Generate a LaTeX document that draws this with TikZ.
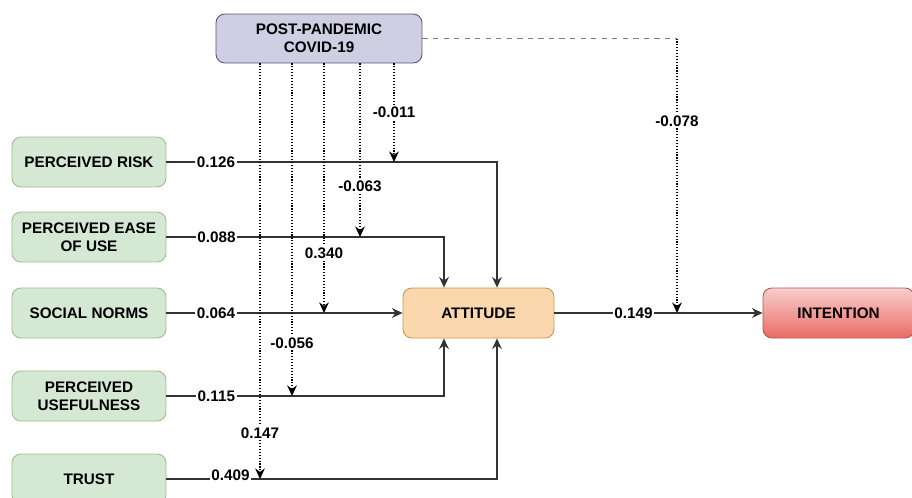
\documentclass[tikz,border=0pt]{standalone}
\usepackage{fontspec}
\setmainfont{Liberation Sans}
\usepackage{tikz}
\usetikzlibrary{arrows.meta}
\definecolor{postfill}{HTML}{D0CEE2}
\definecolor{postline}{HTML}{56517E}
\definecolor{consfill}{HTML}{D5E8D4}
\definecolor{consline}{HTML}{9DBB8C}
\definecolor{attfill}{HTML}{FAD7AC}
\definecolor{attline}{HTML}{C8964E}
\definecolor{inttop}{HTML}{F8CECC}
\definecolor{intbot}{HTML}{EA6B66}
\definecolor{intline}{HTML}{B85450}

\begin{document}
\begin{tikzpicture}[x=0.02cm,y=-0.02cm,
  font=\fontsize{8.7}{10}\selectfont\bfseries,
  box/.style={draw,rounded corners=5pt,minimum width=3.08cm,minimum height=1cm,align=center,line width=0.5pt},
  cons/.style={box,fill=consfill,draw=consline},
  conn/.style={draw=black!80,line width=0.65pt,-{Stealth[length=6pt,width=5.5pt]}},
  mod/.style={conn,draw=black,densely dotted,line width=0.9pt},
  lbl/.style={fill=white,inner sep=1pt}]
\useasboundingbox (0,0) rectangle (912,497);
\node[box,fill=postfill,draw=postline,minimum width=4.12cm,minimum height=0.98cm] (post) at (319,38.5) {POST-PANDEMIC\\COVID-19};
\node[cons] (risk) at (89,162) {PERCEIVED RISK};
\node[cons] (ease) at (89,237) {PERCEIVED EASE\\OF USE};
\node[cons] (soc) at (89,313) {SOCIAL NORMS};
\node[cons] (use) at (89,396) {PERCEIVED\\USEFULNESS};
\node[cons] (trust) at (89,479) {TRUST};
\node[box,fill=attfill,draw=attline,minimum width=3.02cm] (att) at (478.5,313) {ATTITUDE};
\node[box,top color=inttop,bottom color=intbot,draw=intline,minimum width=3.02cm] (int) at (838.5,313) {INTENTION};

\draw[conn] (risk.east) -| node[lbl,pos=0.075]{0.126} ([xshift=0.37cm]att.north);
\draw[conn] (ease.east) -| node[lbl,pos=0.09]{0.088} ([xshift=-0.69cm]att.north);
\draw[conn] (soc.east) -- node[lbl,pos=0.21]{0.064} (att.west);
\draw[conn] (use.east) -| node[lbl,pos=0.09]{0.115} ([xshift=-0.69cm]att.south);
\draw[conn] (trust.east) -| node[lbl,pos=0.097,yshift=2pt]{0.409} ([xshift=0.37cm]att.south);
\draw[conn] (att.east) -- node[lbl,pos=0.38]{0.149} (int.west);

\coordinate (m1) at (394,162);
\coordinate (m2) at (360,237);
\coordinate (m3) at (324,313);
\coordinate (m4) at (292,396);
\coordinate (m5) at (260,479);
\coordinate (m6) at (677,313);
\draw[mod] (post.south -| m1) -- node[lbl]{-0.011} (m1);
\draw[mod] (post.south -| m2) -- node[lbl,pos=0.71]{-0.063} (m2);
\draw[mod] (post.south -| m3) -- node[lbl,pos=0.76]{0.340} (m3);
\draw[mod] (post.south -| m4) -- node[lbl,pos=0.84]{-0.056} (m4);
\draw[mod,line width=0.6pt] (post.south -| m5) -- node[lbl,pos=0.89]{0.147} (m5);
\draw[dashed,black!50,line width=0.5pt] (post.east) -- (post.east -| m6);
\draw[mod] (post.east -| m6) -- node[lbl,pos=0.3]{-0.078} (m6);
\end{tikzpicture}
\end{document}
